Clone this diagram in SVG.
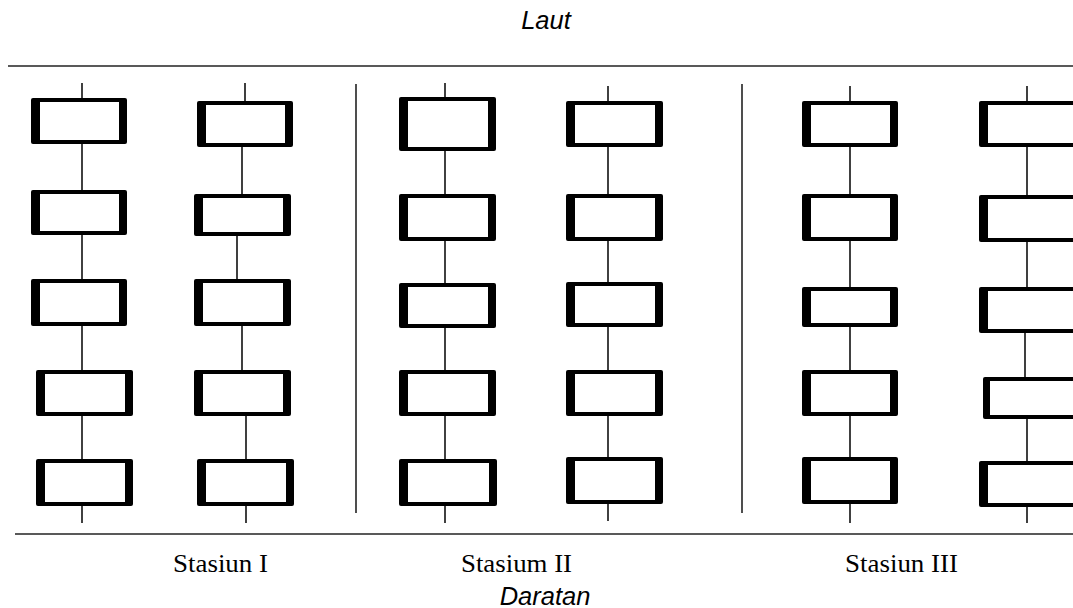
<svg xmlns="http://www.w3.org/2000/svg" width="1073" height="608" viewBox="0 0 1073 608">
<style>
.ln{stroke:#111;stroke-width:1.6;fill:none}
.rule{stroke:#222;stroke-width:1.6;fill:none}
.out{fill:#000}
.in{fill:#fff}
.it{font-family:"Liberation Sans",Arial,sans-serif;font-style:italic;font-size:25.5px;fill:#000;text-anchor:middle}
.st{font-family:"Liberation Serif","Times New Roman",serif;font-size:25px;fill:#000}
</style>
<rect width="1073" height="608" fill="#fff"/>
<text class="it" x="546" y="29">Laut</text>
<text class="it" x="545" y="605">Daratan</text>
<text class="st" x="173" y="572" textLength="95" lengthAdjust="spacingAndGlyphs">Stasiun I</text>
<text class="st" x="461" y="572" textLength="111" lengthAdjust="spacingAndGlyphs">Stasium II</text>
<text class="st" x="845" y="572" textLength="113" lengthAdjust="spacingAndGlyphs">Stasiun III</text>
<g id="connectors">
<line class="rule" x1="8" y1="66" x2="1073" y2="66"/>
<line class="rule" x1="15" y1="534" x2="1073" y2="534"/>
<line class="rule" x1="356" y1="84" x2="356" y2="513"/>
<line class="rule" x1="742" y1="84" x2="742" y2="513"/>
<polyline class="ln" points="82,83 82,523"/>
<polyline class="ln" points="245,83 245,124 242,124 242,215 237,215 237,300 242,300 242,393 246,393 246,523"/>
<polyline class="ln" points="445,83 445,523"/>
<polyline class="ln" points="608,86 608,521"/>
<polyline class="ln" points="850,86 850,523"/>
<polyline class="ln" points="1027,86 1027,310 1025,310 1025,398 1027,398 1027,523"/>
</g>
<g id="st1">
<g id="n1-1"><rect class="out" x="31" y="98" width="96" height="46" rx="2"/><rect class="in" x="40" y="102" width="79" height="38"/></g>
<g id="n1-2"><rect class="out" x="31" y="190" width="96" height="45" rx="2"/><rect class="in" x="40" y="194" width="79" height="37"/></g>
<g id="n1-3"><rect class="out" x="31" y="279" width="96" height="47" rx="2"/><rect class="in" x="40" y="283" width="79" height="39"/></g>
<g id="n1-4"><rect class="out" x="36" y="370" width="97" height="46" rx="2"/><rect class="in" x="45" y="374" width="80" height="38"/></g>
<g id="n1-5"><rect class="out" x="36" y="459" width="97" height="47" rx="2"/><rect class="in" x="45" y="463" width="80" height="39"/></g>
<g id="n2-1"><rect class="out" x="197" y="101" width="96" height="46" rx="2"/><rect class="in" x="206" y="105" width="79" height="38"/></g>
<g id="n2-2"><rect class="out" x="194" y="194" width="97" height="42" rx="2"/><rect class="in" x="203" y="198" width="80" height="34"/></g>
<g id="n2-3"><rect class="out" x="194" y="279" width="97" height="47" rx="2"/><rect class="in" x="203" y="283" width="80" height="39"/></g>
<g id="n2-4"><rect class="out" x="194" y="370" width="97" height="46" rx="2"/><rect class="in" x="203" y="374" width="80" height="38"/></g>
<g id="n2-5"><rect class="out" x="197" y="459" width="97" height="47" rx="2"/><rect class="in" x="206" y="463" width="80" height="39"/></g>
</g>
<g id="st2">
<g id="n3-1"><rect class="out" x="399" y="97" width="97" height="54" rx="2"/><rect class="in" x="408" y="101" width="80" height="46"/></g>
<g id="n3-2"><rect class="out" x="399" y="194" width="97" height="47" rx="2"/><rect class="in" x="408" y="198" width="80" height="39"/></g>
<g id="n3-3"><rect class="out" x="399" y="283" width="97" height="45" rx="2"/><rect class="in" x="408" y="287" width="80" height="37"/></g>
<g id="n3-4"><rect class="out" x="399" y="370" width="97" height="46" rx="2"/><rect class="in" x="408" y="374" width="80" height="38"/></g>
<g id="n3-5"><rect class="out" x="399" y="459" width="98" height="47" rx="2"/><rect class="in" x="408" y="463" width="81" height="39"/></g>
<g id="n4-1"><rect class="out" x="566" y="101" width="97" height="46" rx="2"/><rect class="in" x="575" y="105" width="80" height="38"/></g>
<g id="n4-2"><rect class="out" x="566" y="194" width="97" height="47" rx="2"/><rect class="in" x="575" y="198" width="80" height="39"/></g>
<g id="n4-3"><rect class="out" x="566" y="282" width="97" height="45" rx="2"/><rect class="in" x="575" y="286" width="80" height="37"/></g>
<g id="n4-4"><rect class="out" x="566" y="370" width="97" height="46" rx="2"/><rect class="in" x="575" y="374" width="80" height="38"/></g>
<g id="n4-5"><rect class="out" x="566" y="457" width="97" height="47" rx="2"/><rect class="in" x="575" y="461" width="80" height="39"/></g>
</g>
<g id="st3">
<g id="n5-1"><rect class="out" x="802" y="101" width="96" height="46" rx="2"/><rect class="in" x="811" y="105" width="79" height="38"/></g>
<g id="n5-2"><rect class="out" x="802" y="194" width="96" height="47" rx="2"/><rect class="in" x="811" y="198" width="79" height="39"/></g>
<g id="n5-3"><rect class="out" x="802" y="287" width="96" height="40" rx="2"/><rect class="in" x="811" y="291" width="79" height="32"/></g>
<g id="n5-4"><rect class="out" x="802" y="370" width="96" height="46" rx="2"/><rect class="in" x="811" y="374" width="79" height="38"/></g>
<g id="n5-5"><rect class="out" x="802" y="457" width="96" height="47" rx="2"/><rect class="in" x="811" y="461" width="79" height="39"/></g>
<g id="n6-1"><rect class="out" x="979" y="101" width="110" height="46" rx="2"/><rect class="in" x="988" y="105" width="100" height="38"/></g>
<g id="n6-2"><rect class="out" x="979" y="195" width="110" height="47" rx="2"/><rect class="in" x="988" y="199" width="100" height="39"/></g>
<g id="n6-3"><rect class="out" x="979" y="287" width="110" height="46" rx="2"/><rect class="in" x="988" y="291" width="100" height="38"/></g>
<g id="n6-4"><rect class="out" x="983" y="377" width="110" height="42" rx="2"/><rect class="in" x="990" y="381" width="100" height="34"/></g>
<g id="n6-5"><rect class="out" x="979" y="461" width="110" height="46" rx="2"/><rect class="in" x="988" y="465" width="100" height="38"/></g>
</g>
</svg>
